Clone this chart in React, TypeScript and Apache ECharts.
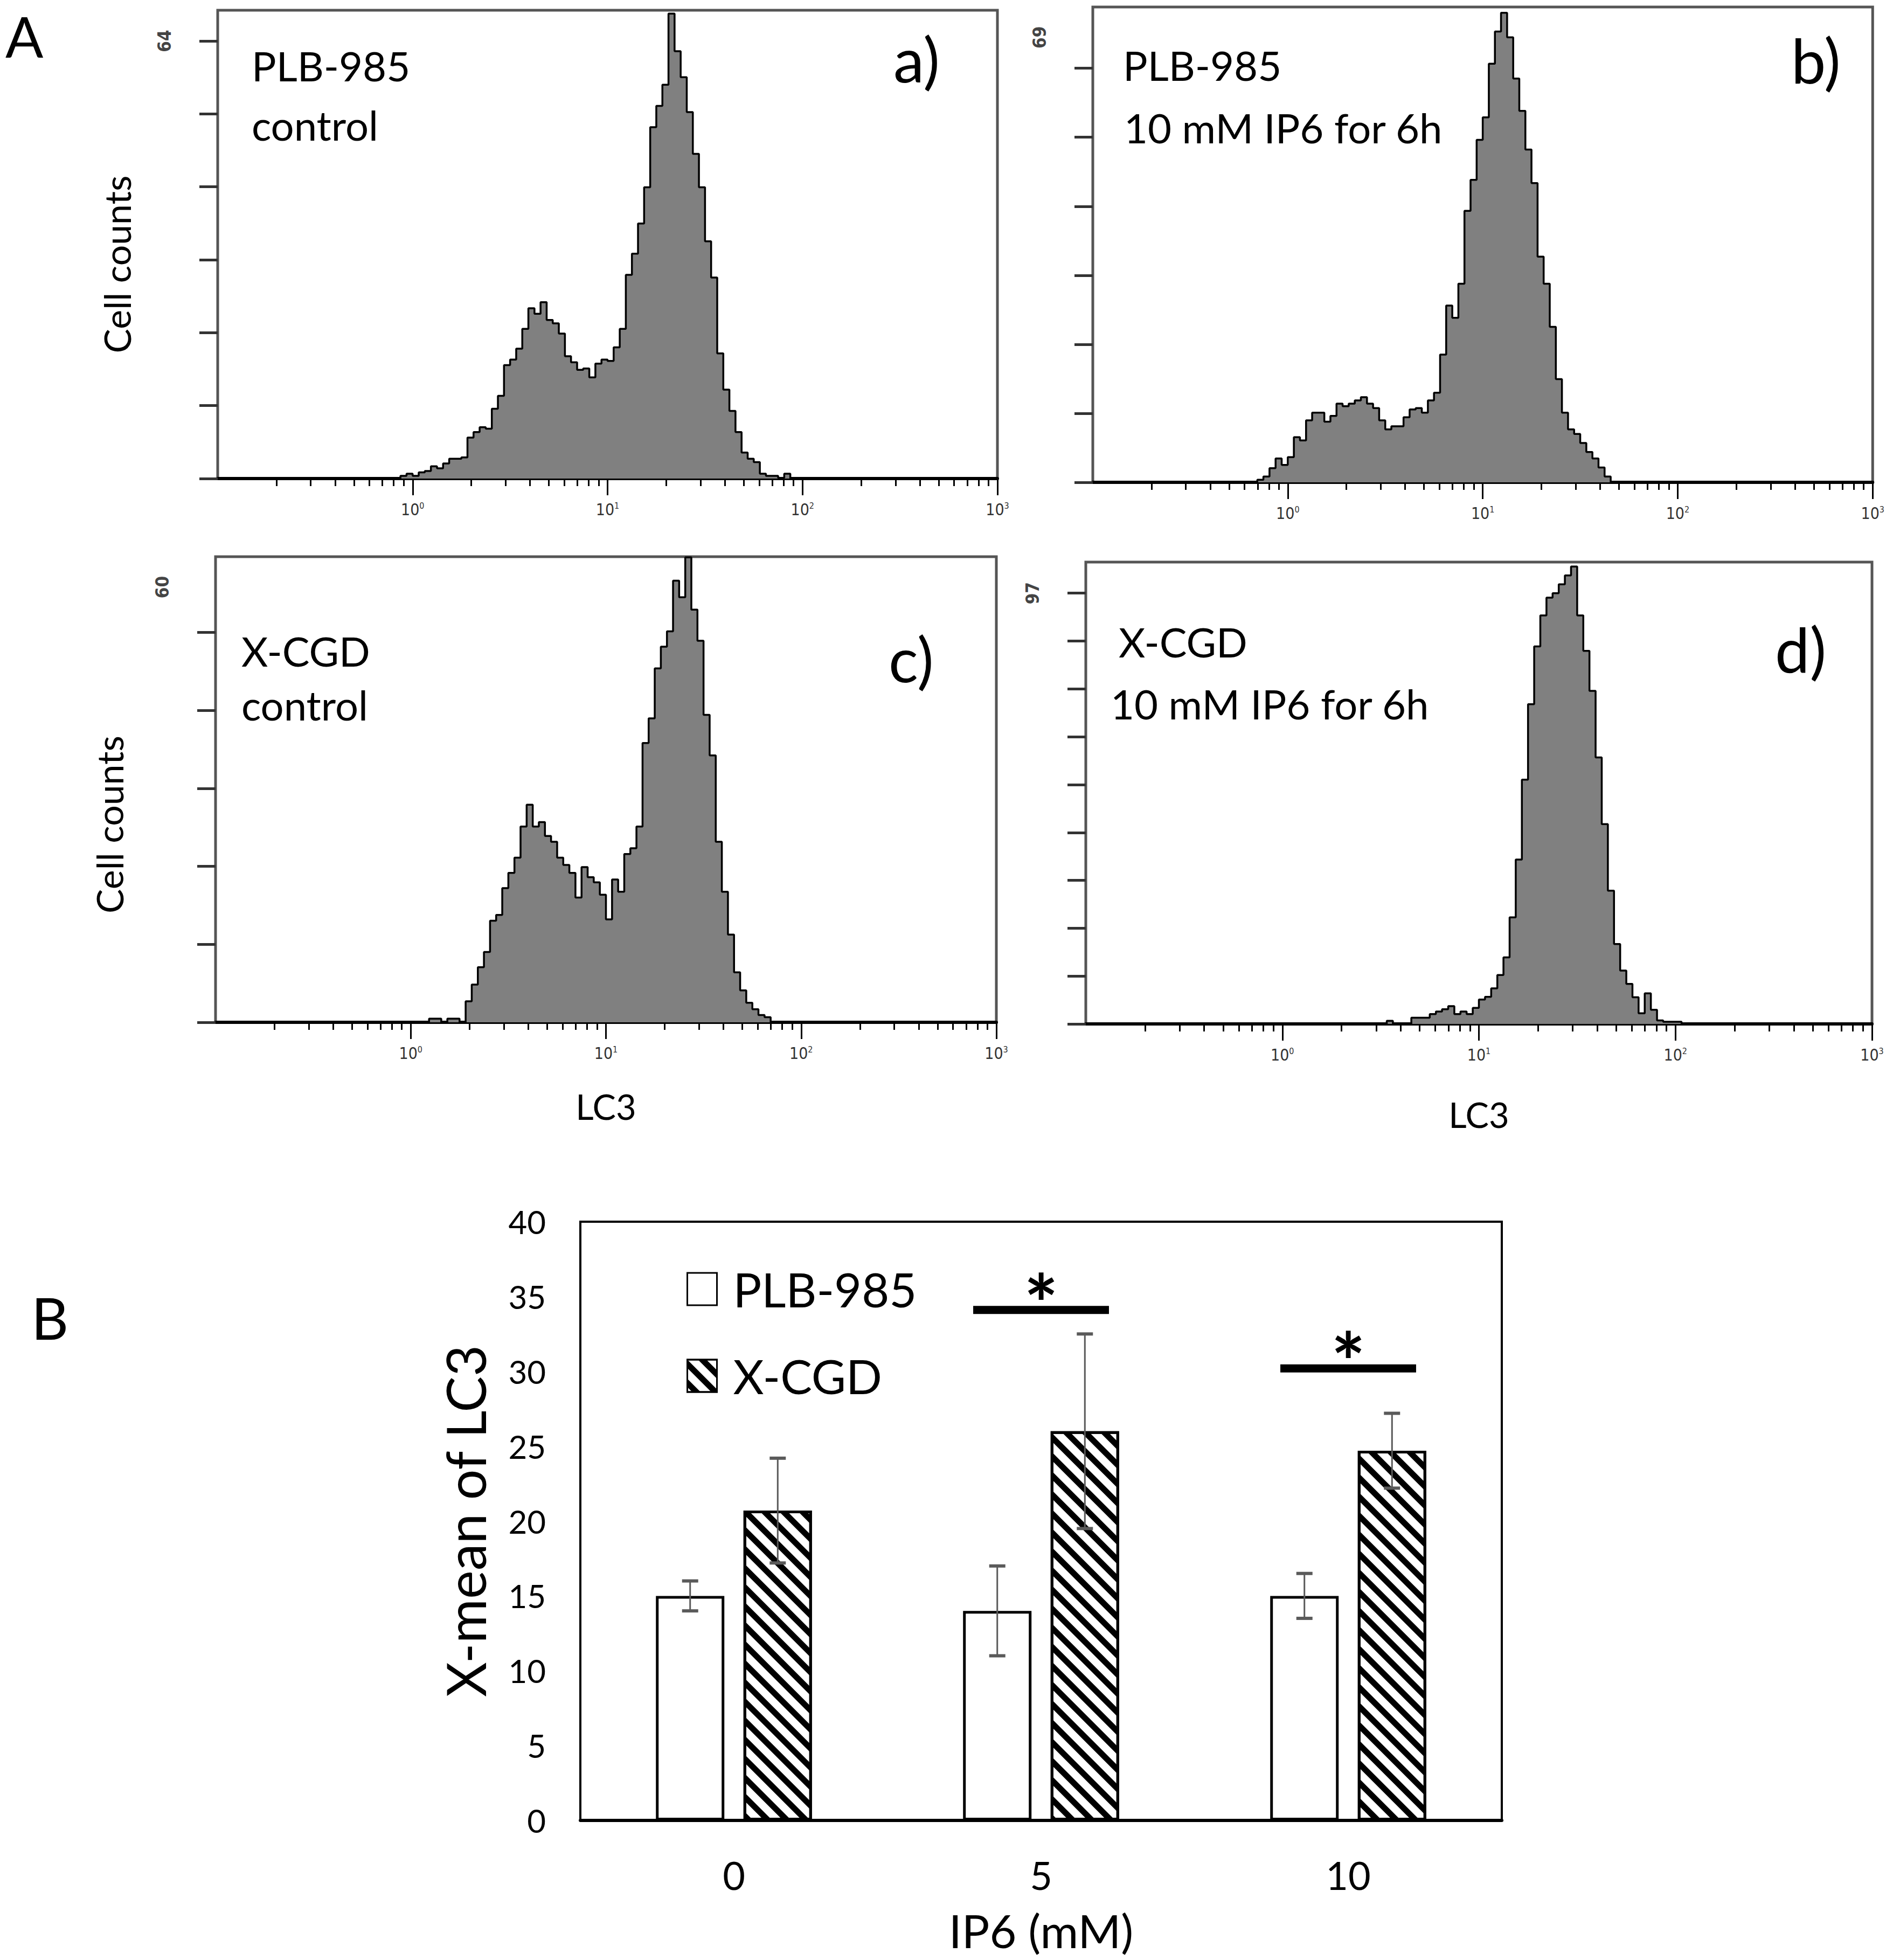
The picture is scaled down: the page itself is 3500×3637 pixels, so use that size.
import React, { useEffect, useRef } from 'react';
import * as echarts from 'echarts';

// ---------- Histogram data (flow cytometry, LC3 log scale) ----------
// channel index k -> LC3 = 10^(k/32 - 1)  (32 channels per decade, axis starts at 10^-1)
const CHANNELS_PER_DECADE = 32;
const FIRST_DECADE = -1;

const A_START = 29;
const A_COUNTS = [0, 0.4, 0.7, 0.4, 0.9, 1.1, 1.8, 1.5, 2.2, 2.9, 2.9, 3.1, 6.0, 6.8, 7.5, 7.3, 10.2, 12.1, 16.6, 17.4, 19.0, 21.9, 24.9, 24.1, 25.8, 23.2, 22.7, 21.2, 17.9, 17.0, 15.9, 16.1, 14.8, 16.8, 17.4, 17.2, 19.2, 21.9, 29.8, 32.9, 37.3, 42.6, 51.4, 54.5, 57.6, 68.0, 62.5, 58.7, 53.6, 47.5, 42.6, 34.7, 29.4, 18.3, 13.0, 9.9, 6.8, 3.8, 2.9, 2.4, 0.7, 0.4, 0.4, 0.1, 0.7, 0];
const B_START = 26;
const B_COUNTS = [0, 0.4, 0.9, 2.2, 3.7, 2.7, 3.9, 7.0, 6.5, 9.6, 10.8, 10.8, 9.4, 10.3, 12.2, 11.8, 12.2, 12.7, 13.2, 12.2, 11.5, 9.6, 8.2, 8.7, 8.7, 10.1, 11.3, 11.5, 10.8, 12.7, 13.9, 19.8, 27.4, 25.5, 30.8, 42.1, 46.9, 53.1, 56.6, 64.9, 69.9, 72.8, 69.0, 62.6, 57.6, 51.6, 46.4, 35.0, 30.8, 24.1, 16.0, 10.8, 8.2, 7.5, 6.1, 4.7, 3.7, 2.3, 0.9, 0];
const C_START = 34;
const C_COUNTS = [0, 0.5, 0.5, 0, 0.5, 0.5, 0, 2.9, 5.2, 7.6, 9.7, 14.0, 14.8, 18.5, 20.6, 22.7, 27.0, 30.0, 27.0, 27.6, 25.7, 24.9, 22.7, 21.7, 20.6, 17.2, 21.4, 20.0, 19.3, 17.6, 14.2, 19.7, 18.0, 23.2, 24.0, 27.0, 38.5, 41.9, 48.8, 51.8, 53.9, 60.9, 58.6, 64.1, 56.9, 52.6, 42.4, 36.8, 24.9, 18.0, 12.1, 6.9, 4.4, 2.7, 1.8, 1.0, 0.7, 0];
const D_START = 48;
const D_COUNTS = [0, 0.7, 0, 0, 0, 1.4, 1.4, 1.4, 2.2, 2.8, 3.3, 4.0, 2.2, 2.8, 2.2, 3.6, 5.5, 6.1, 8, 11, 15, 24, 37, 55, 72, 85, 92, 96, 97, 99, 101, 103, 92, 84, 75, 60, 45, 30, 18, 12, 9, 6, 2.4, 6.9, 3.2, 0.8, 0.5, 0.5, 0.5, 0];

// y axis: tick positions, top labelled value, axis maximum
const A_YTICKS = [0, 10.67, 21.33, 32, 42.67, 53.33, 64];
const B_YTICKS = [0, 10.7, 21.4, 32.1, 42.8, 53.5, 64.2];
const C_YTICKS = [0, 10.75, 21.5, 32.25, 43, 53.75];
const D_YTICKS = [0, 10.78, 21.56, 32.33, 43.11, 53.89, 64.67, 75.44, 86.22, 97];
const A_YLABEL = 64, B_YLABEL = 69, C_YLABEL = 60, D_YLABEL = 97;
const A_YMAX = 68.5, B_YMAX = 73.7, C_YMAX = 64.2, D_YMAX = 104;

// x axis: log decades (labelled)
const X_MAJOR = [1, 10, 100, 1000];

// ---------- Bar chart data ----------
const CATEGORIES = ['0', '5', '10'];
const PLB_MEAN = [15.0, 14.0, 15.0];
const PLB_SD = [1.0, 3.0, 1.5];
const XCGD_MEAN = [20.7, 26.0, 24.7];
const XCGD_SD = [3.5, 6.5, 2.5];
const SIG_CATEGORIES = ['5', '10'];
const SIG_LEVEL = [34.1, 30.2];
const BAR_Y_TICKS_INTERVAL = 5;

// ---------- style constants ----------
const FONT = 'Lato, "Open Sans", sans-serif';
const NARROW = '"Liberation Sans Narrow", "DejaVu Sans Condensed", "Liberation Sans", sans-serif';
const BAR_W = 127;
const BAR_GAP = 0.28;
const SIG_WIDTH_FRAC = 0.442;
const ERR_COLOR = '#5a5a5a';

const PANEL_LAYOUT = [
  { left: 404, top: 19, width: 1447, height: 869 },
  { left: 2028, top: 13, width: 1454, height: 882 },
  { left: 400, top: 1033, width: 1449, height: 864 },
  { left: 2015, top: 1043, width: 1459, height: 857 },
];
const BAR_LAYOUT = { left: 1077, top: 2267, width: 1710, height: 1111 };

function minorTicks(): number[] {
  const out: number[] = [];
  for (let e = -1; e <= 2; e++) {
    for (let m = 2; m <= 9; m++) out.push(Number((m * Math.pow(10, e)).toPrecision(6)));
  }
  return out;
}

function histSeriesData(start: number, counts: number[]) {
  return counts.map((c, i) => [Math.pow(10, (start + i) / CHANNELS_PER_DECADE + FIRST_DECADE), c]);
}

function txt(text: string, x: number, y: number, size: number, extra: any = {}) {
  return {
    type: 'text',
    x,
    y,
    silent: true,
    style: {
      text,
      fill: '#000',
      font: `${extra.weight || 'normal'} ${size}px ${FONT}`,
      align: extra.align || 'left',
      verticalAlign: 'middle',
      textAlign: extra.align || 'left',
      textVerticalAlign: 'middle',
    },
  };
}

function buildOption() {
  const starts = [A_START, B_START, C_START, D_START];
  const counts = [A_COUNTS, B_COUNTS, C_COUNTS, D_COUNTS];
  const yTicks = [A_YTICKS, B_YTICKS, C_YTICKS, D_YTICKS];
  const yLabels = [A_YLABEL, B_YLABEL, C_YLABEL, D_YLABEL];
  const yMaxes = [A_YMAX, B_YMAX, C_YMAX, D_YMAX];
  const MINOR = minorTicks();

  const grids: any[] = [];
  const xAxes: any[] = [];
  const yAxes: any[] = [];
  const series: any[] = [];

  const yNameCfg: any[] = [
    { name: 'Cell counts', gap: 154, pad: 74 },
    null,
    { name: 'Cell counts', gap: 164, pad: 130 },
    null,
  ];
  const xNameCfg: any[] = [null, null, { name: 'LC3', gap: 123 }, { name: 'LC3', gap: 135 }];

  for (let i = 0; i < 4; i++) {
    grids.push({
      ...PANEL_LAYOUT[i],
      show: true,
      borderColor: '#555',
      borderWidth: 5,
      backgroundColor: 'transparent',
      containLabel: false,
    });
    const xn = xNameCfg[i];
    xAxes.push({
      gridIndex: i,
      type: 'log',
      logBase: 10,
      min: 0.1,
      max: 1000,
      position: 'bottom',
      axisLine: { show: true, onZero: false, lineStyle: { color: '#000', width: 6 } },
      axisTick: { show: true, customValues: X_MAJOR, length: 31, lineStyle: { color: '#000', width: 3 } },
      axisLabel: {
        show: true,
        customValues: X_MAJOR,
        margin: 42,
        formatter: (v: number) => `{b|10}{s|${Math.round(Math.log10(v))}}`,
        rich: {
          b: { fontSize: 30, fontFamily: NARROW, color: '#333' },
          s: { fontSize: 16, fontFamily: NARROW, color: '#333', verticalAlign: 'top' },
        },
      },
      splitLine: { show: false },
      name: xn ? xn.name : '',
      nameLocation: 'middle',
      nameGap: xn ? xn.gap : 0,
      nameTextStyle: { fontSize: 65, fontFamily: FONT, color: '#000' },
    });
    xAxes.push({
      gridIndex: i,
      type: 'log',
      logBase: 10,
      min: 0.1,
      max: 1000,
      position: 'bottom',
      axisLine: { show: false, onZero: false },
      axisTick: { show: true, customValues: MINOR, length: 14, lineStyle: { color: '#000', width: 3 } },
      axisLabel: { show: false },
      splitLine: { show: false },
    });
    const yn = yNameCfg[i];
    const lbl = yLabels[i];
    yAxes.push({
      gridIndex: i,
      type: 'value',
      min: 0,
      max: yMaxes[i],
      axisLine: { show: false },
      axisTick: { show: true, customValues: yTicks[i], length: 34, lineStyle: { color: '#333', width: 5 } },
      axisLabel: {
        show: true,
        customValues: [lbl],
        formatter: () => String(lbl),
        rotate: 90,
        margin: 82,
        fontSize: 33,
        fontWeight: 'bold',
        fontFamily: NARROW,
        color: '#444',
      },
      splitLine: { show: false },
      name: yn ? yn.name : '',
      nameLocation: 'middle',
      nameRotate: 90,
      nameGap: yn ? yn.gap : 0,
      nameTextStyle: { fontSize: 68, fontFamily: FONT, color: '#000', padding: yn ? [0, yn.pad, 0, 0] : 0 },
    });
    series.push({
      type: 'line',
      xAxisIndex: 2 * i,
      yAxisIndex: i,
      step: 'end',
      symbol: 'none',
      silent: true,
      data: histSeriesData(starts[i], counts[i]),
      lineStyle: { color: '#000', width: 3.5 },
      areaStyle: { color: '#808080', opacity: 1 },
      z: 2,
    });
  }

  // ---------- bar chart ----------
  grids.push({ ...BAR_LAYOUT, show: true, borderColor: '#000', borderWidth: 4, backgroundColor: 'transparent' });
  xAxes.push({
    gridIndex: 4,
    type: 'category',
    data: CATEGORIES,
    axisLine: { show: true, lineStyle: { color: '#000', width: 6 } },
    axisTick: { show: false },
    axisLabel: { fontSize: 72, fontFamily: FONT, color: '#000', margin: 65 },
    name: 'IP6 (mM)',
    nameLocation: 'middle',
    nameGap: 160,
    nameTextStyle: { fontSize: 86, fontFamily: FONT, color: '#000' },
  });
  yAxes.push({
    gridIndex: 4,
    type: 'value',
    min: 0,
    max: 40,
    interval: BAR_Y_TICKS_INTERVAL,
    axisLine: { show: false },
    axisTick: { show: false },
    axisLabel: { fontSize: 60, fontFamily: FONT, color: '#000', margin: 64 },
    splitLine: { show: false },
    name: 'X-mean of LC3',
    nameLocation: 'middle',
    nameRotate: 90,
    nameGap: 164,
    nameTextStyle: { fontSize: 100, fontFamily: FONT, color: '#000' },
  });

  const hatch = {
    symbol: 'rect',
    symbolSize: 1,
    color: '#000',
    dashArrayX: [1, 0],
    dashArrayY: [11, 14],
    rotation: Math.PI / 4,
  };

  series.push({
    name: 'PLB-985',
    type: 'bar',
    xAxisIndex: 8,
    yAxisIndex: 4,
    data: PLB_MEAN,
    barWidth: BAR_W,
    barGap: `${BAR_GAP * 100}%`,
    itemStyle: { color: '#fff', borderColor: '#000', borderWidth: 5 },
    z: 2,
  });
  series.push({
    name: 'X-CGD',
    type: 'bar',
    xAxisIndex: 8,
    yAxisIndex: 4,
    data: XCGD_MEAN,
    barWidth: BAR_W,
    barGap: `${BAR_GAP * 100}%`,
    itemStyle: { color: '#fff', borderColor: '#000', borderWidth: 5, decal: hatch },
    z: 2,
  });

  const errData: number[][] = [];
  CATEGORIES.forEach((_, i) => errData.push([i, PLB_MEAN[i], PLB_SD[i], 0]));
  CATEGORIES.forEach((_, i) => errData.push([i, XCGD_MEAN[i], XCGD_SD[i], 1]));
  series.push({
    type: 'custom',
    xAxisIndex: 8,
    yAxisIndex: 4,
    silent: true,
    z: 5,
    encode: { x: 0, y: 1 },
    data: errData,
    renderItem: (params: any, api: any) => {
      const cat = api.value(0);
      const mean = api.value(1);
      const sd = api.value(2);
      const side = api.value(3);
      const dx = (side === 0 ? -1 : 1) * (BAR_W * (1 + BAR_GAP)) / 2;
      const pTop = api.coord([cat, mean + sd]);
      const pBot = api.coord([cat, mean - sd]);
      const x = pTop[0] + dx;
      const cap = 15;
      return {
        type: 'group',
        children: [
          { type: 'line', shape: { x1: x, y1: pTop[1], x2: x, y2: pBot[1] }, style: { stroke: ERR_COLOR, lineWidth: 3 } },
          { type: 'line', shape: { x1: x - cap, y1: pTop[1], x2: x + cap, y2: pTop[1] }, style: { stroke: ERR_COLOR, lineWidth: 6 } },
          { type: 'line', shape: { x1: x - cap, y1: pBot[1], x2: x + cap, y2: pBot[1] }, style: { stroke: ERR_COLOR, lineWidth: 6 } },
        ],
      };
    },
  });

  series.push({
    type: 'custom',
    xAxisIndex: 8,
    yAxisIndex: 4,
    silent: true,
    z: 6,
    encode: { x: 0, y: 1 },
    data: SIG_CATEGORIES.map((c, i) => [CATEGORIES.indexOf(c), SIG_LEVEL[i]]),
    renderItem: (params: any, api: any) => {
      const p = api.coord([api.value(0), api.value(1)]);
      const band = api.size([1, 0])[0];
      const w = band * SIG_WIDTH_FRAC;
      return {
        type: 'group',
        children: [
          { type: 'rect', shape: { x: p[0] - w / 2, y: p[1] - 7.5, width: w, height: 15 }, style: { fill: '#000' } },
          {
            type: 'text',
            x: p[0],
            y: p[1] - 14,
            style: {
              text: '*',
              fill: '#000',
              font: `bold 150px ${FONT}`,
              align: 'center',
              verticalAlign: 'middle',
              textAlign: 'center',
              textVerticalAlign: 'middle',
            },
          },
        ],
      };
    },
  });

  const graphic = [
    txt('A', 10, 66, 104),
    txt('B', 58, 2444, 107),
    txt('PLB-985', 467, 121, 76),
    txt('control', 467, 231, 76),
    txt('a)', 1658, 108, 115),
    txt('PLB-985', 2084, 120, 76),
    txt('10 mM IP6 for 6h', 2086, 236, 76),
    txt('b)', 3324, 110, 115),
    txt('X-CGD', 448, 1207, 76),
    txt('control', 448, 1307, 76),
    txt('c)', 1649, 1221, 115),
    txt('X-CGD', 2076, 1190, 76),
    txt('10 mM IP6 for 6h', 2061, 1305, 76),
    txt('d)', 3294, 1203, 115),
  ];

  return {
    animation: false,
    backgroundColor: '#fff',
    grid: grids,
    xAxis: xAxes,
    yAxis: yAxes,
    legend: {
      data: ['PLB-985', 'X-CGD'],
      orient: 'vertical',
      left: 1269,
      top: 2343,
      itemWidth: 55,
      itemHeight: 60,
      itemGap: 73,
      icon: 'rect',
      selectedMode: false,
      itemStyle: { borderColor: '#000', borderWidth: 3 },
      textStyle: { fontSize: 88, fontFamily: FONT, color: '#000', padding: [0, 0, 0, 25] },
    },
    graphic,
    series,
  };
}

export default function App() {
  const ref = useRef<HTMLDivElement>(null);
  useEffect(() => {
    if (!ref.current) return;
    const chart = echarts.init(ref.current, null, { renderer: 'svg' });
    chart.setOption(buildOption() as any);
    return () => chart.dispose();
  }, []);
  return (
    <div
      ref={ref}
      style={{ position: 'absolute', left: 0, top: 0, width: 3500, height: 3637, background: '#fff' }}
    />
  );
}
